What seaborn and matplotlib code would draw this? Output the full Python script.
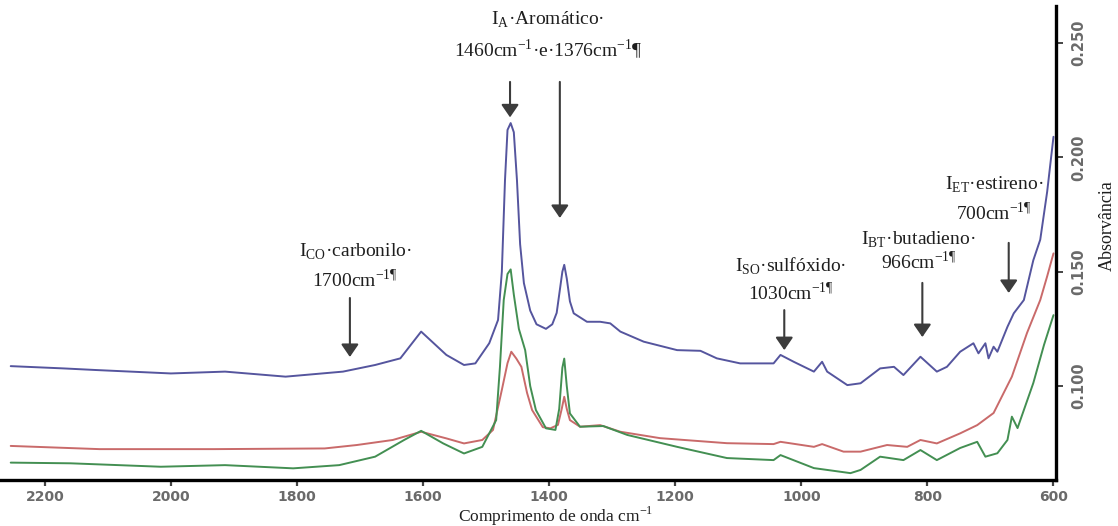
import matplotlib
matplotlib.use("Agg")
import matplotlib.pyplot as plt
import seaborn as sns
import pandas as pd

# ---------------- data ----------------
blue_wn = [2254, 2170, 2119, 2000, 1914, 1818, 1727, 1676, 1636, 1603, 1563, 1535, 1517, 1495,
           1481, 1475, 1470, 1466, 1461, 1456, 1451, 1446, 1440, 1430, 1420, 1405, 1395, 1388,
           1384, 1379, 1376, 1372, 1367, 1361, 1340, 1319, 1303, 1287, 1250, 1197, 1160, 1134,
           1097, 1044, 1033, 1012, 980, 967, 959, 927, 906, 875, 853, 838, 811, 785, 769, 748,
           727, 719, 708, 703, 695, 689, 673, 663, 647, 632, 621, 610, 600]
blue_abs = [0.1087, 0.1077, 0.1070, 0.1055, 0.1063, 0.1041, 0.1063, 0.1092, 0.1121, 0.1238,
            0.1136, 0.1092, 0.1099, 0.1187, 0.1289, 0.150, 0.190, 0.212, 0.215, 0.211, 0.190,
            0.162, 0.145, 0.133, 0.127, 0.125, 0.127, 0.132, 0.140, 0.150, 0.153, 0.147, 0.137,
            0.1318, 0.1281, 0.1281, 0.1274, 0.1238, 0.1194, 0.1157, 0.1154, 0.1121, 0.1099,
            0.1099, 0.1136, 0.1106, 0.1063, 0.1106, 0.1063, 0.1004, 0.1012, 0.1077, 0.1084,
            0.1048, 0.1128, 0.1063, 0.1084, 0.1150, 0.1187, 0.1143, 0.1187, 0.1121, 0.1172,
            0.1150, 0.1259, 0.1318, 0.1376, 0.155, 0.164, 0.185, 0.209]

red_wn = [2254, 2113, 1932, 1756, 1705, 1648, 1603, 1563, 1535, 1506, 1489, 1475, 1466, 1460,
          1452, 1444, 1435, 1427, 1410, 1398, 1386, 1380, 1376, 1372, 1367, 1351, 1319, 1287,
          1224, 1118, 1044, 1033, 980, 967, 933, 906, 864, 832, 811, 785, 748, 721, 695, 666,
          642, 621, 610, 600]
red_abs = [0.0738, 0.0724, 0.0724, 0.0727, 0.0742, 0.0764, 0.0800, 0.0771, 0.0749, 0.0764,
           0.0808, 0.0983, 0.110, 0.1150, 0.112, 0.1084, 0.097, 0.0895, 0.082, 0.0815, 0.083,
           0.090, 0.0953, 0.090, 0.0851, 0.0822, 0.0829, 0.0800, 0.0772, 0.0750, 0.0746,
           0.0756, 0.0734, 0.0746, 0.0713, 0.0713, 0.0742, 0.0734, 0.0764, 0.0749, 0.0793,
           0.0829, 0.0882, 0.1041, 0.1232, 0.1376, 0.148, 0.158]

green_wn = [2254, 2159, 2016, 1914, 1806, 1733, 1676, 1630, 1603, 1568, 1535, 1506, 1484, 1478,
            1472, 1466, 1461, 1456, 1448, 1438, 1430, 1421, 1405, 1390, 1384, 1379, 1376, 1372,
            1367, 1351, 1314, 1276, 1197, 1118, 1044, 1033, 980, 922, 906, 875, 838, 811, 785,
            748, 721, 708, 689, 673, 666, 657, 632, 615, 600]
green_abs = [0.0665, 0.0662, 0.0647, 0.0654, 0.0640, 0.0654, 0.0691, 0.0764, 0.0804, 0.0749,
             0.0705, 0.0734, 0.0851, 0.1084, 0.1376, 0.149, 0.151, 0.140, 0.125, 0.1157, 0.100,
             0.0895, 0.0815, 0.0808, 0.090, 0.108, 0.112, 0.100, 0.088, 0.0822, 0.0825, 0.0786,
             0.0734, 0.0685, 0.0676, 0.0698, 0.0641, 0.0619, 0.0633, 0.0691, 0.0676, 0.0720,
             0.0676, 0.0729, 0.0756, 0.0691, 0.0706, 0.0764, 0.0866, 0.0816, 0.1013, 0.118, 0.131]

x_ticks = [2200, 2000, 1800, 1600, 1400, 1200, 1000, 800, 600]
y_ticks = [0.100, 0.150, 0.200, 0.250]
y_tick_labels = ["0.100", "0.150", "0.200", "0.250"]

# annotations: (arrow wavenumber, arrow top, arrow tip, line1, line2, text wn, y1, y2)
notes = [
    (1716, 0.1385, 0.1127, r"I$_{\mathregular{CO}}$·carbonilo·", r"1700cm$^{\mathregular{-1¶}}$", 1708, 0.1586, 0.1464),
    (1027, 0.1332, 0.1157, r"I$_{\mathregular{SO}}$·sulfóxido·", r"1030cm$^{\mathregular{-1¶}}$", 1017, 0.1525, 0.1407),
    (808, 0.1451, 0.1214, r"I$_{\mathregular{BT}}$·butadieno·", r"966cm$^{\mathregular{-1¶}}$", 814, 0.1639, 0.1542),
    (671, 0.1626, 0.1407, r"I$_{\mathregular{ET}}$·estireno·", r"700cm$^{\mathregular{-1¶}}$", 694, 0.1879, 0.1757),
]
arom_arrows = [(1462, 0.233, 0.2175), (1383, 0.233, 0.1735)]
arom_text = (r"I$_{\mathregular{A}}$·Aromático·",
             r"1460cm$^{\mathregular{-1}}$·e·1376cm$^{\mathregular{-1}}$¶", 1402, 0.2601, 0.2470)

# ---------------- styling ----------------
sns.set_style("white")
plt.rcParams['font.family'] = ['Liberation Serif', 'DejaVu Serif']
plt.rcParams['mathtext.fontset'] = 'custom'
plt.rcParams['mathtext.rm'] = 'Liberation Serif'

W, H = 1118, 526
fig = plt.figure(figsize=(W / 100, H / 100), dpi=100)
ax = fig.add_axes([0, 1 - 480 / H, 1056 / W, 474 / H])

series = [(blue_wn, blue_abs, "#55559e"), (red_wn, red_abs, "#c96a6a"), (green_wn, green_abs, "#438f52")]
for wn, ab, col in series:
    df = pd.DataFrame({"wn": wn, "abs": ab})
    sns.lineplot(data=df, x="wn", y="abs", color=col, lw=1.4, ax=ax,
                 estimator=None, sort=False)

ax.set_xlim(2271, 596)
ax.set_ylim(0.0589, 0.2662)
ax.set_xlabel("")
ax.set_ylabel("")

for s in ["left", "top"]:
    ax.spines[s].set_visible(False)
for s in ["bottom", "right"]:
    ax.spines[s].set_linewidth(2.4)
    ax.spines[s].set_color("black")

ax.yaxis.tick_right()
ax.set_xticks(x_ticks)
ax.set_xticklabels([str(t) for t in x_ticks], fontfamily="DejaVu Sans", fontsize=10,
                   fontweight="bold", color="#6a6a6a")
ax.set_yticks(y_ticks)
ax.set_yticklabels(y_tick_labels, rotation=90, va="center", fontfamily="DejaVu Sans",
                   fontsize=10.5, fontweight="bold", color="#6a6a6a")
ax.tick_params(axis="x", direction="out", length=4, width=1.6, color="#444444", pad=3, bottom=True)
ax.tick_params(axis="y", direction="out", length=5, width=1.4, color="#444444", pad=6,
               right=True, left=False)

arrow_kw = dict(arrowstyle="-|>,head_length=0.32,head_width=0.22", color="#3c3c3c", lw=1.5,
                mutation_scale=24, shrinkA=0, shrinkB=0)
txt_kw = dict(ha="center", va="center", fontsize=14, color="#1e1e1e")

for wn, top, tip, l1, l2, tx, y1, y2 in notes:
    ax.annotate("", xy=(wn, tip), xytext=(wn, top), arrowprops=arrow_kw)
    ax.text(tx, y1, l1, **txt_kw)
    ax.text(tx, y2, l2, **txt_kw)

for wn, top, tip in arom_arrows:
    ax.annotate("", xy=(wn, tip), xytext=(wn, top), arrowprops=arrow_kw)
ax.text(arom_text[2], arom_text[3], arom_text[0], **txt_kw)
ax.text(arom_text[2], arom_text[4], arom_text[1], **txt_kw)

fig.text(556 / W, 1 - 521.5 / H, r"Comprimento de onda cm$^{\mathregular{-1}}$",
         ha="center", va="baseline", fontsize=12.5, color="#1e1e1e")
fig.text(1107 / W, 1 - 226 / H, "Absorvância", rotation=90, ha="center", va="center",
         fontsize=13, color="#1e1e1e")

fig.savefig("out.png", dpi=100, facecolor="white")
